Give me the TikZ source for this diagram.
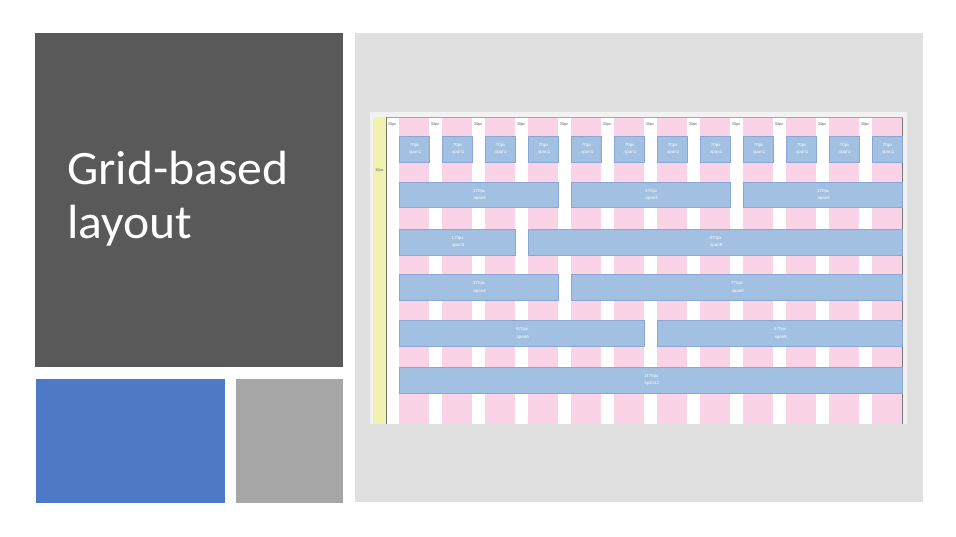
\documentclass[tikz,border=0pt]{standalone}
\usepackage{fontspec}
\newfontfamily\titlefont[FakeStretch=1.035]{Carlito}
\newfontfamily\tinyfont{Liberation Sans}
\definecolor{darkpanel}{HTML}{595959}
\definecolor{bluepanel}{HTML}{4D79C7}
\definecolor{graypanel}{HTML}{A6A6A6}
\definecolor{lightpanel}{HTML}{E0E0E0}
\definecolor{shotbg}{HTML}{F2F2F2}
\definecolor{yellowcol}{HTML}{F2F2B0}
\definecolor{pinkcol}{HTML}{FAD3E6}
\definecolor{boxfill}{HTML}{A2C0E2}
\definecolor{boxedge}{HTML}{8AA6D6}
\definecolor{edgeline}{HTML}{777777}
\definecolor{guttext}{HTML}{606060}
\begin{document}
\begin{tikzpicture}[x=1pt,y=-1pt,
  spanbox/.style={draw=boxedge, fill=boxfill, line width=0.6pt, inner sep=0pt,
    anchor=north west, minimum height=25.7pt, align=center, text=white,
    font=\tinyfont\fontsize{4.4}{7.4}\selectfont},
  gutlbl/.style={anchor=west, inner sep=0pt, text=guttext, font=\tinyfont\fontsize{3.8}{4}\selectfont},
  titletext/.style={anchor=base west, inner sep=0pt, text=white, font=\titlefont\fontsize{48}{53}\selectfont}
]
\useasboundingbox (0,0) rectangle (956,536);
\fill[white] (0,0) rectangle (956,536);
% left panels
\fill[darkpanel] (35,33) rectangle (343,367);
\fill[bluepanel] (36,379) rectangle (225,503);
\fill[graypanel] (236,379) rectangle (343,503);
% right panel
\fill[lightpanel] (355,33) rectangle (923,502);
% screenshot
\fill[shotbg] (370,112) rectangle (907,424);
\fill[white] (387,117) rectangle (903,424);
\fill[yellowcol] (373,117) rectangle (386,424);
\foreach \i in {0,...,11} {
  \fill[pinkcol] ({399.3+43*\i},117) rectangle ++(30.1,307);
}
\draw[edgeline, line width=0.8pt] (386.5,117) -- (386.5,424);
\draw[edgeline, line width=0.8pt] (902.8,117) -- (902.8,424);
\draw[gray!70, line width=0.6pt] (386.5,117) -- (902.8,117);
\foreach \i in {0,...,11} {
  \node[gutlbl] (gl\i) at ({387.7+43*\i},125) {30px};
}
\node[inner sep=0pt, text=guttext, font=\tinyfont\fontsize{3.8}{4}\selectfont] (yl) at (379.5,171) {30px};
% row 1: span1
\foreach \i in {0,...,11} {
  \node[spanbox, minimum width=30.1pt] (ra\i) at ({399.3+43*\i},136) {70px\\.span1};
}
% row 2: span4
\node[spanbox, minimum width={43*4-12.9}] (rb0) at ({399.3+43*0},181.7) {370px\\.span4};
\node[spanbox, minimum width={43*4-12.9}] (rb1) at ({399.3+43*4},181.7) {370px\\.span4};
\node[spanbox, minimum width={43*4-12.9}] (rb2) at ({399.3+43*8},181.7) {370px\\.span4};
% row 3
\node[spanbox, minimum width={43*3-12.9}] (rc0) at ({399.3+43*0},228.8) {170px\\.span3};
\node[spanbox, minimum width={43*9-12.9}] (rc1) at ({399.3+43*3},228.8) {870px\\.span9};
% row 4
\node[spanbox, minimum width={43*4-12.9}] (rd0) at ({399.3+43*0},274.2) {370px\\.span4};
\node[spanbox, minimum width={43*8-12.9}] (rd1) at ({399.3+43*4},274.2) {770px\\.span8};
% row 5
\node[spanbox, minimum width={43*6-12.9}] (re0) at ({399.3+43*0},320.4) {570px\\.span6};
\node[spanbox, minimum width={43*6-12.9}] (re1) at ({399.3+43*6},320.4) {570px\\.span6};
% row 6
\node[spanbox, minimum width={43*12-12.9}] (rf0) at ({399.3+43*0},367) {1170px\\.span12};
% title
\node[titletext] (t1) at (67,184.3) {Grid-based};
\node[titletext] (t2) at (67,238) {layout};
\end{tikzpicture}
\end{document}
